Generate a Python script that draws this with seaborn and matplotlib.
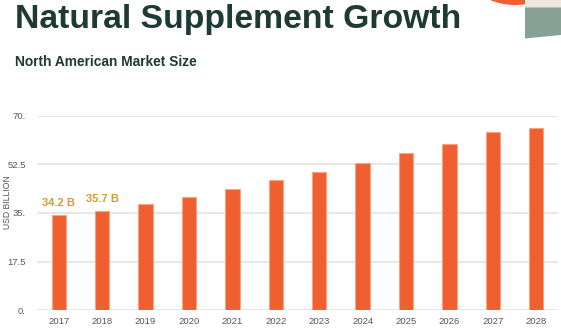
import matplotlib
matplotlib.use("Agg")
import matplotlib.pyplot as plt
import seaborn as sns
import pandas as pd
from matplotlib.patches import Rectangle, Circle, PathPatch
from matplotlib.path import Path

years = ["2017", "2018", "2019", "2020", "2021", "2022",
         "2023", "2024", "2025", "2026", "2027", "2028"]
market_size = [34.2, 35.7, 38.3, 40.7, 43.5, 46.8,
               49.7, 53.2, 56.7, 59.9, 64.1, 65.8]
labelled_years = ["2017", "2018"]
y_ticks = [0, 17.5, 35, 52.5, 70]
y_tick_labels = ["0.", "17.5", "35.", "52.5", "70."]

title = "Natural Supplement Growth"
subtitle = "North American Market Size"
y_label = "USD BILLION"

df = pd.DataFrame({"year": years, "size": market_size})

sns.set_style("white")
plt.rcParams["font.family"] = ["Liberation Sans", "DejaVu Sans"]

W, H = 561, 329
fig = plt.figure(figsize=(W / 100, H / 100), dpi=100)
ax = fig.add_axes([37 / W, 1 - 310 / H, (558 - 37) / W, (310 - 116) / H])

bar_color = "#f05f30"
sns.barplot(data=df, x="year", y="size", color=bar_color, width=0.33,
            saturation=1, edgecolor="#f7a486", linewidth=0.8, ax=ax, zorder=3)

ax.set_ylim(0, 70)
ax.set_xlim(-0.5, len(years) - 0.5)
ax.set_yticks(y_ticks)
ax.set_yticklabels(y_tick_labels)
ax.yaxis.grid(True, color="#e3e3e3", linewidth=1.2, zorder=0)
ax.xaxis.grid(False)
for s in ax.spines.values():
    s.set_visible(False)
ax.tick_params(axis="both", length=0, labelsize=6.8, labelcolor="#555555")
ax.tick_params(axis="y", pad=8)
ax.tick_params(axis="x", pad=5)
ax.set_xlabel("")
ax.set_ylabel("")

# value labels for the first two years
for i, (yr, v) in enumerate(zip(years, market_size)):
    if yr in labelled_years:
        ax.annotate(f"{v} B", (i, v), xytext=(0, 5), textcoords="offset points",
                    ha="center", va="bottom", fontsize=8, fontweight="bold",
                    color="#d99a2b")

fig.text(8 / W, 1 - 202 / H, y_label, rotation=90, ha="center", va="center",
         fontsize=6.2, color="#555555")

fig.text(15 / W, 1 - 28 / H, title, ha="left", va="baseline",
         fontsize=24.3, fontweight="bold", color="#1e3a33")
fig.text(15 / W, 1 - 65.5 / H, subtitle, ha="left", va="baseline",
         fontsize=9.9, fontweight="bold", color="#1e3a33")

# corner decoration
deco = fig.add_axes([0, 0, 1, 1], zorder=-1)
deco.set_xlim(0, W)
deco.set_ylim(H, 0)
deco.axis("off")
deco.add_patch(Circle((515, -60), 65, color="#f05f30", lw=0))
deco.add_patch(Rectangle((525, 0), 36, 8, color="#efe6dd", lw=0))
verts = [(525, 7.5), (561, 7.5), (561, 35), (535, 37.5), (525, 38.5), (525, 7.5)]
codes = [Path.MOVETO, Path.LINETO, Path.LINETO, Path.CURVE3, Path.CURVE3,
         Path.CLOSEPOLY]
deco.add_patch(PathPatch(Path(verts, codes), facecolor="#86a297", lw=0))

fig.savefig("out.png", dpi=100)
